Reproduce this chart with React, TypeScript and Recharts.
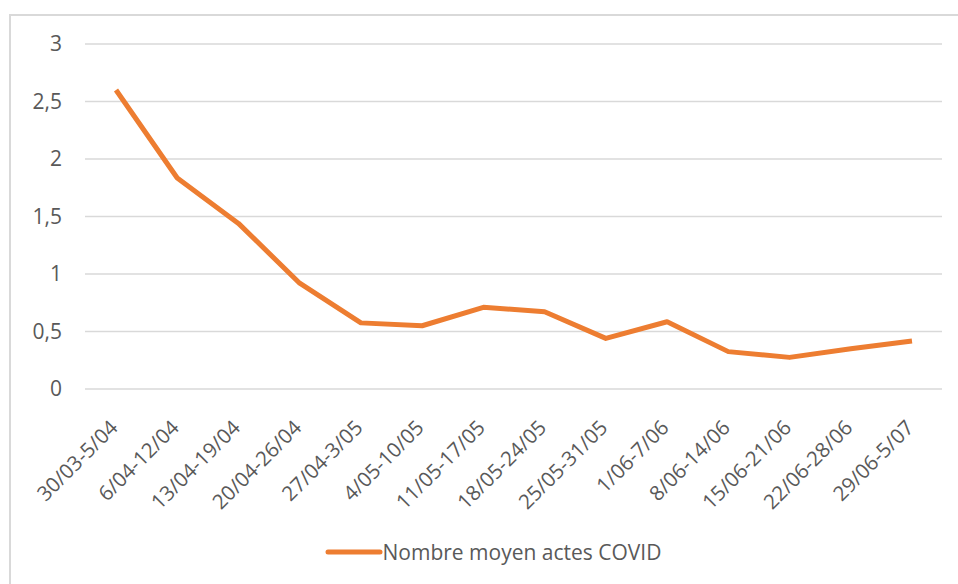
import React from 'react';
import { LineChart, Line, XAxis, YAxis, CartesianGrid, Legend } from 'recharts';

const categories = [
  '30/03-5/04', '6/04-12/04', '13/04-19/04', '20/04-26/04', '27/04-3/05',
  '4/05-10/05', '11/05-17/05', '18/05-24/05', '25/05-31/05', '1/06-7/06',
  '8/06-14/06', '15/06-21/06', '22/06-28/06', '29/06-5/07',
];
const values = [2.6, 1.835, 1.44, 0.92, 0.575, 0.55, 0.71, 0.672, 0.44, 0.585, 0.325, 0.275, 0.35, 0.417];
const yTicks = [0, 0.5, 1, 1.5, 2, 2.5, 3];
const seriesName = 'Nombre moyen actes COVID';

const data = categories.map((c, i) => ({ cat: c, v: values[i] }));

const FONT = '"Open Sans", sans-serif';
const TEXT = '#595959';
const ORANGE = '#ED7D31';

const XTick = (props: any) => {
  const { x, y, payload } = props;
  const ax = x + 3;
  const ay = y + 32;
  return (
    <text
      x={ax}
      y={ay}
      transform={`rotate(-45 ${ax} ${ay})`}
      textAnchor="end"
      fill={TEXT}
      fontSize={20.5}
      fontFamily={FONT}
    >
      {payload.value}
    </text>
  );
};

const LegendContent = () => (
  <div style={{ height: 30, display: 'flex', justifyContent: 'center', alignItems: 'center' }}>
    <div style={{ display: 'flex', alignItems: 'center', marginLeft: 44 }}>
      <svg width={58} height={10} style={{ display: 'block' }}>
        <line x1={3} y1={5} x2={55} y2={5} stroke={ORANGE} strokeWidth={5} strokeLinecap="round" />
      </svg>
      <span style={{ fontFamily: FONT, fontSize: 21, color: TEXT, lineHeight: '30px' }}>{seriesName}</span>
    </div>
  </div>
);

export default function App() {
  return (
    <div style={{ position: 'absolute', left: 0, top: 0, width: 958, height: 584, background: '#fff' }}>
      <div
        style={{
          position: 'absolute',
          left: 9,
          top: 14,
          width: 960,
          height: 580,
          borderLeft: '2px solid #d9d9d9',
          borderTop: '2px solid #d9d9d9',
        }}
      />
      <div style={{ position: 'absolute', left: 0, top: 0 }}>
        <LineChart width={958} height={584} data={data} margin={{ top: 44, right: 16, left: 0, bottom: 17 }}>
          <CartesianGrid vertical={false} stroke="#d9d9d9" strokeWidth={1.5} />
          <XAxis
            dataKey="cat"
            interval={0}
            height={148}
            axisLine={false}
            tickLine={false}
            padding={{ left: 31, right: 30 }}
            tick={<XTick />}
          />
          <YAxis
            width={85}
            domain={[0, 3]}
            ticks={yTicks}
            axisLine={false}
            tickLine={false}
            tickSize={0}
            tickMargin={23}
            tick={{ fill: TEXT, fontSize: 21, fontFamily: FONT }}
            tickFormatter={(v: number) => String(v).replace('.', ',')}
          />
          <Legend verticalAlign="bottom" content={<LegendContent />} />
          <Line
            type="linear"
            dataKey="v"
            name={seriesName}
            stroke={ORANGE}
            strokeWidth={5}
            strokeLinejoin="round"
            dot={false}
            activeDot={false}
            isAnimationActive={false}
          />
        </LineChart>
      </div>
    </div>
  );
}
